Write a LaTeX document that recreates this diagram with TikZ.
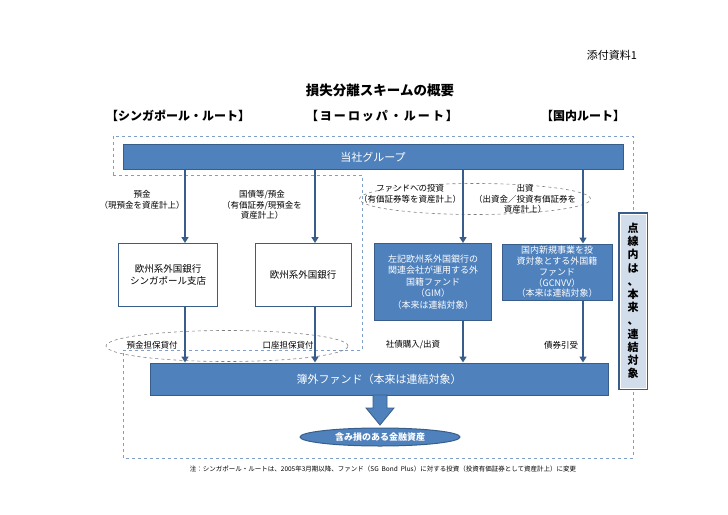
\documentclass[tikz,border=0pt]{standalone}
\usepackage{fontspec}
\setmainfont{Noto Sans CJK JP}
\usetikzlibrary{arrows.meta,shapes.geometric}
\definecolor{bl}{HTML}{4F81BD}
\definecolor{bd}{HTML}{385D8A}
\definecolor{dl}{HTML}{7F9FC8}
\begin{document}
\begin{tikzpicture}[x=1pt,y=-1pt,
 fill box/.style={draw=bd,fill=bl,line width=1pt,text=white,font=\fontsize{9.5}{12}\selectfont,align=center,inner sep=0},
 white box/.style={draw=bd,fill=white,line width=1pt,font=\fontsize{9.5}{12}\selectfont,align=center,inner sep=0},
 lbl/.style={font=\fontsize{8.5}{10.5}\selectfont,align=center,inner sep=0},
 arr/.style={draw=bd,line width=1.8pt,-{Triangle[length=6pt,width=7pt]}},
 dsh/.style={draw=dl,dashed,line width=0.6pt},
 deli/.style={draw=gray,dashed,line width=0.6pt}]
\useasboundingbox (0,0) rectangle (728,514);
% header
\node[font=\fontsize{11}{13}\selectfont] (att) at (612,55) {添付資料1};
\node[font=\bfseries\fontsize{13.5}{16}\selectfont] (title) at (380,90) {損失分離スキームの概要};
\node[font=\bfseries\fontsize{12}{14}\selectfont] (r1) at (178,116) {【シンガポール・ルート】};
\node[font=\bfseries\fontsize{12}{14}\selectfont] (r2) at (382,116) {【\,ヨ\,ー\,ロ\,ッ\,パ\,・\,ル\,ー\,ト\,】};
\node[font=\bfseries\fontsize{12}{14}\selectfont] (r3) at (583,116) {【国内ルート】};
% dashed regions
\draw[dsh] (113,175) -- (113,136) -- (633,136) -- (633,212);
\draw[dsh] (113,175) -- (362,175) -- (362,350) -- (123,350) -- (123,458) -- (633,458) -- (633,390);
% ellipses
\node[deli,ellipse,minimum width=231pt,minimum height=31pt] (e1) at (475,199) {};
\node[deli,ellipse,minimum width=242pt,minimum height=31pt] (e2) at (227,346) {};
% top bar
\node[fill box,minimum width=500pt,minimum height=25pt,font=\fontsize{11}{13}\selectfont] (grp) at (373,157) {当社グループ};
% boxes
\node[white box,minimum width=99pt,minimum height=63pt] (b1) at (168,275) {欧州系外国銀行\\シンガポール支店};
\node[white box,minimum width=96pt,minimum height=63pt] (b2) at (303,275) {欧州系外国銀行};
\node[fill box,minimum width=117pt,minimum height=77pt,font=\fontsize{9}{11.5}\selectfont] (b3) at (433,282) {左記欧州系外国銀行の\\関連会社が運用する外\\国籍ファンド\\（GIM）\\（本来は連結対象）};
\node[fill box,minimum width=110pt,minimum height=56pt,font=\fontsize{9}{10.8}\selectfont] (b4) at (557,272) {国内新規事業を投\\資対象とする外国籍\\ファンド\\（GCNVV）\\（本来は連結対象）};
\node[fill box,minimum width=458pt,minimum height=32pt,font=\fontsize{11}{13}\selectfont] (off) at (379,379) {簿外ファンド（本来は連結対象）};
\node[ellipse,draw=bd,fill=bl,line width=1pt,minimum width=160pt,minimum height=18pt,inner sep=0,text=white,font=\bfseries\fontsize{9}{11}\selectfont] (loss) at (380,437) {含み損のある金融資産};
% vertical box
\node[draw=bd,fill=dl!35,line width=2.4pt,minimum width=28pt,minimum height=176pt,inner sep=0] (vb) at (633,301) {};
\draw[white,line width=0.8pt] ([shift={(2.2,-2.2)}]vb.south west) rectangle ([shift={(-2.2,2.2)}]vb.north east);
\node[font=\bfseries\fontsize{11}{13.2}\selectfont,align=center,inner sep=0] (vt) at (vb) {点\\線\\内\\は\\、\\本\\来\\、\\連\\結\\対\\象};
% arrows
\coordinate (a1) at (185,170); \coordinate (a2) at (315,170); \coordinate (a3) at (463,170); \coordinate (a4) at (583,170);
\draw[arr] (a1) -- (a1|-b1.north);
\draw[arr] (a2) -- (a2|-b2.north);
\draw[arr] (a3) -- (a3|-b3.north);
\draw[arr] (a4) -- (a4|-b4.north);
\draw[arr] (a1|-b1.south) -- (a1|-off.north);
\draw[arr] (a2|-b2.south) -- (a2|-off.north);
\draw[arr] (a3|-b3.south) -- (a3|-off.north);
\draw[arr] (a4|-b4.south) -- (a4|-off.north);
\draw[draw=bd,fill=bl,line width=0.8pt] (373,395) -- (373,408) -- (366,408) -- (380,425) -- (394,408) -- (387,408) -- (387,395) -- cycle;
% labels
\node[lbl] (l1) at (142,200) {預金\\（現預金を資産計上）};
\node[lbl] (l2) at (262,205) {国債等/預金\\（有価証券/現預金を\\資産計上）};
\node[lbl] (l3) at (410,194) {ファンドへの投資\\（有価証券等を資産計上）};
\node[lbl] (l4) at (525,199) {出資\\（出資金／投資有価証券を\\資産計上）};
\node[lbl] (l5) at (152,345) {預金担保貸付};
\node[lbl] (l6) at (288,345) {口座担保貸付};
\node[lbl] (l7) at (413,345) {社債購入/出資};
\node[lbl] (l8) at (561,345) {債券引受};
\node[lbl,font=\fontsize{6.5}{8}\selectfont] (note) at (383,469) {注：シンガポール・ルートは、2005年3月期以降、ファンド（SG\ \ Bond\ \ Plus）に対する投資（投資有価証券として資産計上）に変更};
\end{tikzpicture}
\end{document}
